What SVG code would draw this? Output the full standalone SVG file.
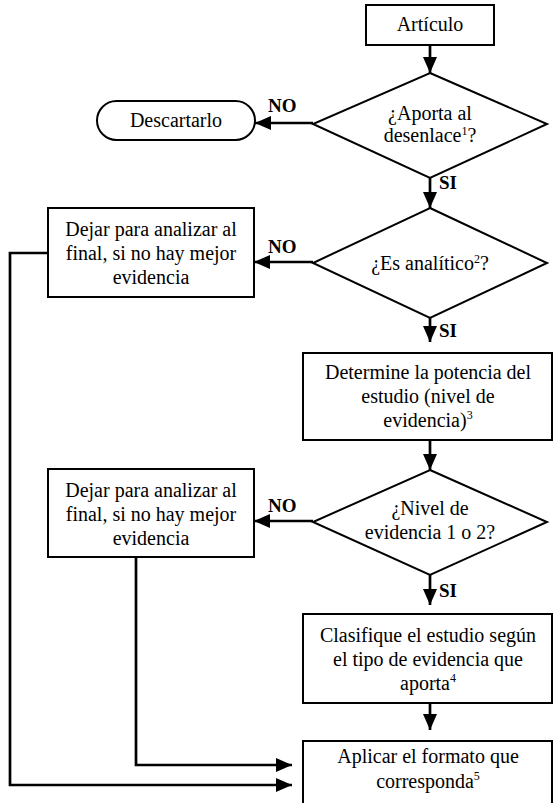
<svg xmlns="http://www.w3.org/2000/svg" width="554" height="803" viewBox="0 0 554 803">
<style>
  .box { fill: #fff; stroke: #000; stroke-width: 2; }
  .t { font-family: "Liberation Serif", "Times New Roman", serif; font-size: 20px; fill: #000; text-anchor: middle; }
  .lbl { font-family: "Liberation Serif", "Times New Roman", serif; font-size: 19px; font-weight: bold; fill: #000; }
  .sup { font-size: 12px; }
  .conn { fill: none; stroke: #000; stroke-width: 2.7; }
</style>
<defs>
  <marker id="ah" markerUnits="userSpaceOnUse" markerWidth="16" markerHeight="14" refX="16" refY="7" orient="auto">
    <path d="M0,0 L16,7 L0,14 z" fill="#000"/>
  </marker>
</defs>
<rect width="554" height="803" fill="#fff"/>

<g id="connectors">
  <path class="conn" d="M430,45 V73" marker-end="url(#ah)"/>
  <path class="conn" d="M313,123 H255" marker-end="url(#ah)"/>
  <path class="conn" d="M430,178 V208" marker-end="url(#ah)"/>
  <path class="conn" d="M313,262 H254" marker-end="url(#ah)"/>
  <path class="conn" d="M430,318 V342" marker-end="url(#ah)"/>
  <path class="conn" d="M430,440 V470" marker-end="url(#ah)"/>
  <path class="conn" d="M313,521 H254" marker-end="url(#ah)"/>
  <path class="conn" d="M430,575 V605" marker-end="url(#ah)"/>
  <path class="conn" d="M430,703 V730" marker-end="url(#ah)"/>
  <path class="conn" d="M136,557 V765 H292" marker-end="url(#ah)"/>
  <path class="conn" d="M48,253 H10 V785 H292" marker-end="url(#ah)"/>
  <text class="lbl" x="268" y="112">NO</text>
  <text class="lbl" x="439" y="189">SI</text>
  <text class="lbl" x="268" y="253">NO</text>
  <text class="lbl" x="439" y="337">SI</text>
  <text class="lbl" x="268" y="512">NO</text>
  <text class="lbl" x="439" y="597">SI</text>
</g>

<g id="articulo">
  <rect class="box" x="366" y="5" width="128" height="40"/>
  <text class="t" x="430" y="31">Artículo</text>
</g>

<g id="aporta">
  <polygon class="box" points="430,73 547,124 430,178 313,124"/>
  <text class="t" x="430" y="120">¿Aporta al</text>
  <text class="t" x="430" y="142">desenlace<tspan class="sup" dy="-7">1</tspan><tspan dy="7">?</tspan></text>
</g>

<g id="descartarlo">
  <rect class="box" x="97" y="101" width="158" height="39" rx="19.5" ry="19.5"/>
  <text class="t" x="176" y="127">Descartarlo</text>
</g>

<g id="analitico">
  <polygon class="box" points="430,208 547,263 430,318 313,263"/>
  <text class="t" x="430" y="270">¿Es analítico<tspan class="sup" dy="-7">2</tspan><tspan dy="7">?</tspan></text>
</g>

<g id="dejar1">
  <rect class="box" x="48" y="208" width="206" height="89"/>
  <text class="t" x="151" y="236">Dejar para analizar al</text>
  <text class="t" x="151" y="260">final, si no hay mejor</text>
  <text class="t" x="151" y="284">evidencia</text>
</g>

<g id="determine">
  <rect class="box" x="303" y="353" width="249" height="87"/>
  <text class="t" x="428" y="379">Determine la potencia del</text>
  <text class="t" x="428" y="403">estudio (nivel de</text>
  <text class="t" x="428" y="427">evidencia)<tspan class="sup" dy="-8">3</tspan></text>
</g>

<g id="nivel">
  <polygon class="box" points="430,470 547,522 430,575 313,522"/>
  <text class="t" x="430" y="515">¿Nivel de</text>
  <text class="t" x="430" y="539">evidencia 1 o 2?</text>
</g>

<g id="dejar2">
  <rect class="box" x="48" y="469" width="206" height="88"/>
  <text class="t" x="151" y="497">Dejar para analizar al</text>
  <text class="t" x="151" y="521">final, si no hay mejor</text>
  <text class="t" x="151" y="545">evidencia</text>
</g>

<g id="clasifique">
  <rect class="box" x="303" y="614" width="249" height="89"/>
  <text class="t" x="428" y="642">Clasifique el estudio según</text>
  <text class="t" x="428" y="666">el tipo de evidencia que</text>
  <text class="t" x="428" y="690">aporta<tspan class="sup" dy="-8">4</tspan></text>
</g>

<g id="aplicar">
  <rect class="box" x="303" y="741" width="249" height="75"/>
  <text class="t" x="428" y="763">Aplicar el formato que</text>
  <text class="t" x="428" y="788">corresponda<tspan class="sup" dy="-8">5</tspan></text>
</g>
</svg>
